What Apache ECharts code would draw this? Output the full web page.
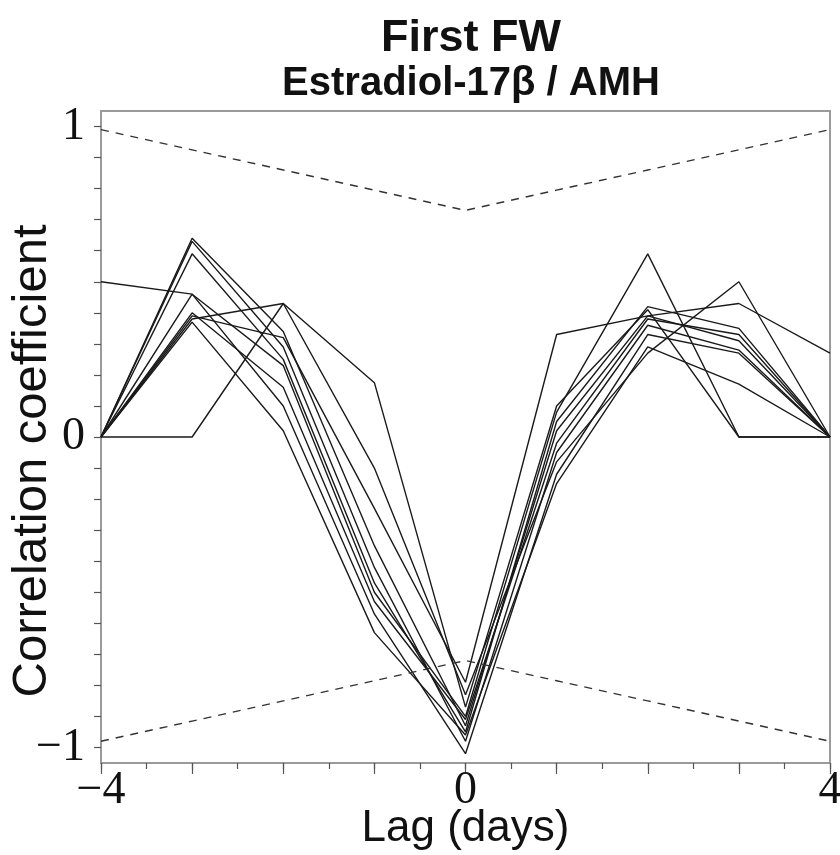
<!DOCTYPE html>
<html>
<head>
<meta charset="utf-8">
<script src="https://cdn.jsdelivr.net/npm/echarts@6/dist/echarts.min.js"></script>
<style>html,body{margin:0;padding:0;background:#fff}#c{width:840px;height:855px}</style>
</head>
<body>
<div id="c"></div>
<script>
const lags = [-4, -3, -2, -1, 0, 1, 2, 3, 4];
const line1  = [0,    0.64, 0.34, -0.35, -0.93,  0.02, 0.39, 0.31, 0];
const line2  = [0,    0.63, 0.29, -0.42, -0.98, -0.05, 0.36, 0.28, 0];
const line3  = [0,    0.59, 0.25, -0.47, -0.95,  0.05, 0.42, 0.35, 0];
const line4  = [0.50, 0.46, 0.23, -0.50, -0.90,  0.08, 0.59, 0,    0];
const line5  = [0,    0.46, 0.10, -0.57, -1.02, -0.12, 0.33, 0.27, 0];
const line6  = [0,    0.40, 0.16, -0.53, -0.91, -0.02, 0.38, 0.33, 0];
const line7  = [0,    0.38, 0.43,  0.175,-0.87,  0.10, 0.41, 0,    0];
const line8  = [0,    0,    0.43, -0.10, -0.83, -0.08, 0.27, 0.50, 0];
const line9  = [0,    0.39, 0.32, -0.23, -0.79,  0.33, 0.39, 0.43, 0.27];
const line10 = [0,    0.37, 0.02, -0.63, -0.96, -0.15, 0.29, 0.17, 0];
const allLines = [line1, line2, line3, line4, line5, line6, line7, line8, line9, line10];
const upperBound = [0.99, 0.925, 0.86, 0.795, 0.73, 0.795, 0.86, 0.925, 0.99];
const lowerBound = [-0.98, -0.915, -0.85, -0.785, -0.72, -0.785, -0.85, -0.915, -0.98];
const xTickLabels = [-4, 0, 4];
const yTickLabels = [-1, 0, 1];
const xMinorTicks = [-4,-3.5,-3,-2.5,-2,-1.5,-1,-0.5,0,0.5,1,1.5,2,2.5,3,3.5,4];
const xMajorTicks = [-4,-3,-2,-1,0,1,2,3,4];
const yTicks = [-1,-0.9,-0.8,-0.7,-0.6,-0.5,-0.4,-0.3,-0.2,-0.1,0,0.1,0.2,0.3,0.4,0.5,0.6,0.7,0.8,0.9,1];

const pair = arr => lags.map((x, i) => [x, arr[i]]);
const fmt = v => String(v).replace('-', '\u2212');
const axisGray = '#9a9a9a';
const sans = 'Liberation Sans, Arial, sans-serif';
const labelFont = {fontFamily: 'Liberation Serif, serif', fontSize: 46, color: '#111'};

const series = allLines.map((arr, i) => ({
  type: 'line', name: 'r' + (i + 1), data: pair(arr), symbol: 'none',
  lineStyle: {color: '#1a1a1a', width: 1.4}, xAxisIndex: 0, yAxisIndex: 0
}));
[upperBound, lowerBound].forEach((arr, i) => series.push({
  type: 'line', name: i ? 'lower' : 'upper', data: pair(arr), symbol: 'none',
  lineStyle: {color: '#333', width: 1.4, type: [8, 7]}, xAxisIndex: 0, yAxisIndex: 0
}));

const chart = echarts.init(document.getElementById('c'));
chart.setOption({
  animation: false,
  backgroundColor: '#fff',
  title: {
    text: '{a|First FW}\n{b|Estradiol-17\u03b2 / AMH}',
    left: 466, top: 12, textAlign: 'center',
    textStyle: {
      rich: {
        a: {fontFamily: sans, fontWeight: 'bold', fontSize: 45, lineHeight: 44, color: '#111', align: 'center'},
        b: {fontFamily: sans, fontWeight: 'bold', fontSize: 40, lineHeight: 46, color: '#111', align: 'center'}
      }
    }
  },
  grid: {left: 101, right: 10, top: 111, bottom: 92, outerBoundsMode: 'none', containLabel: false,
    show: true, borderColor: axisGray, borderWidth: 2, backgroundColor: 'transparent'},
  xAxis: [{
    type: 'value', min: -4, max: 4,
    name: 'Lag (days)', nameLocation: 'middle', nameGap: 44, nameMoveOverlap: false,
    nameTextStyle: {fontFamily: sans, fontSize: 44, color: '#111'},
    axisLine: {show: true, onZero: false, lineStyle: {color: axisGray, width: 2}},
    axisTick: {show: true, customValues: xMinorTicks, length: 6, lineStyle: {color: '#555', width: 1.2}},
    axisLabel: Object.assign({customValues: xTickLabels, formatter: fmt, margin: 5, hideOverlap: false}, labelFont),
    splitLine: {show: false}
  }, {
    type: 'value', min: -4, max: 4, position: 'bottom',
    axisLine: {show: false, onZero: false}, axisLabel: {show: false}, splitLine: {show: false},
    axisTick: {show: true, customValues: xMajorTicks, length: 11, lineStyle: {color: '#555', width: 1.2}}
  }],
  yAxis: [{
    type: 'value', min: -1.05, max: 1.05,
    name: 'Correlation coefficient', nameLocation: 'middle', nameGap: 44, nameRotate: 90, nameMoveOverlap: false,
    nameTextStyle: {fontFamily: sans, fontSize: 49, color: '#111', padding: [0, 48, 0, 0]},
    axisLine: {show: true, onZero: false, lineStyle: {color: axisGray, width: 2}},
    axisTick: {show: true, customValues: yTicks, length: 7, lineStyle: {color: '#555', width: 1.2}},
    axisLabel: Object.assign({customValues: yTickLabels, formatter: fmt, margin: 16, hideOverlap: false}, labelFont),
    splitLine: {show: false}
  }],
  series: series
});
</script>
</body>
</html>
